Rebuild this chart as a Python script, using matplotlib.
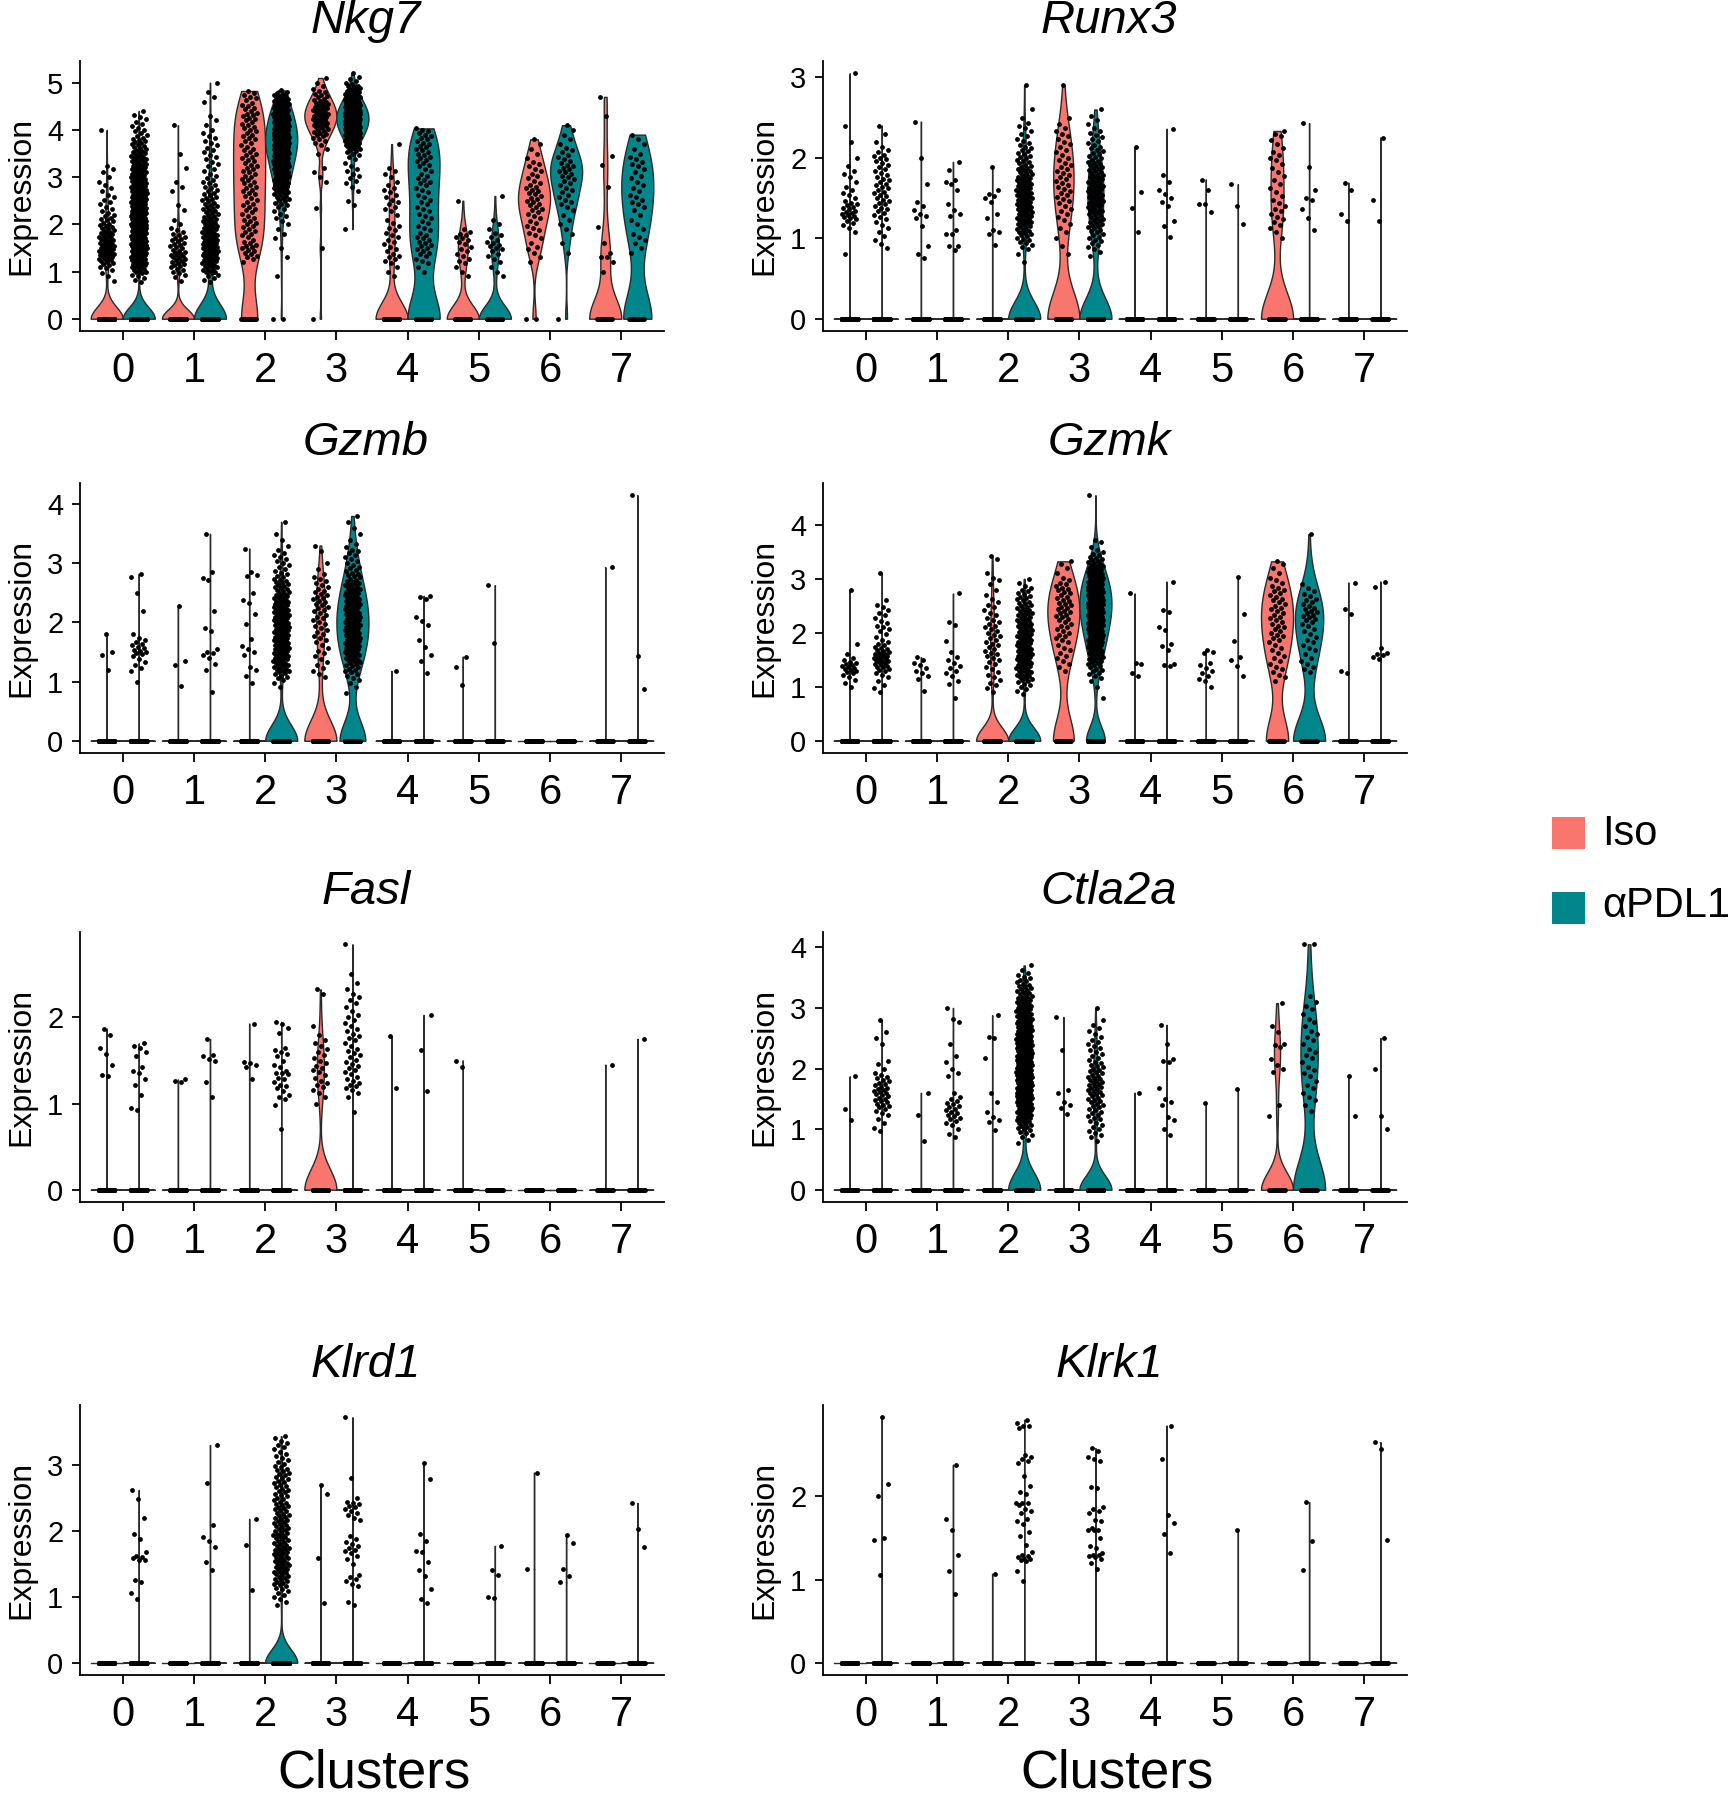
import numpy as np
import matplotlib
matplotlib.use("Agg")
import matplotlib.pyplot as plt
from matplotlib.patches import Rectangle

plt.rcParams['font.family'] = ['Liberation Sans', 'DejaVu Sans']


def H(lo, counts):
    # counts of cells, one entry per 0.1-wide bin centred on lo, lo+0.1, ...
    # cells of one bin are laid out evenly inside that bin
    out = []
    for i, c in enumerate(counts):
        for j in range(c):
            out.append(round(lo + 0.1 * i + 0.1 * ((j + 0.5) / c - 0.5), 3))
    return out


# ==================================
# DATA
# ==================================
CLUSTERS = ["0", "1", "2", "3", "4", "5", "6", "7"]
GROUPS = ["Iso", "\u03b1PDL1"]
COLORS = ["#F8766D", "#00868B"]

# cells at 0 per cluster: [Iso, aPDL1]
nkg7_zeros = [[220, 700], [150, 250], [18, 2], [1, 0], [90, 30], [45, 55], [2, 1], [20, 18]]
nkg7_iso = {
    0: H(0.8, [1, 1, 2, 3, 5, 7, 8, 8, 7, 6, 6, 5, 4, 4, 3, 2, 2, 2, 2, 1, 2, 1, 1, 1, 2, 0, 0, 0, 0, 0, 0, 0, 1]),
    1: H(0.8, [1, 2, 3, 4, 5, 5, 5, 4, 4, 4, 3, 2, 1, 1, 0, 1, 1, 0, 0, 1, 1, 1, 0, 0, 1, 0, 0, 1, 0, 0, 0, 0, 0, 1]),
    2: H(1.2, [1, 3, 3, 4, 3, 2, 3, 3, 3, 3, 2, 3, 3, 2, 3, 3, 3, 3, 3, 3, 3, 3, 3, 3, 3, 2, 3, 3, 3, 3, 3, 4, 3, 3, 2, 3, 2]),
    3: [1.5, 2.35] + H(2.9, [1, 1, 1, 1, 0, 0, 1, 1, 2, 3, 4, 5, 6, 7, 7, 7, 6, 5, 4, 3, 2, 1, 1]),
    4: H(0.9, [1, 1, 1, 2, 3, 2, 2, 2, 2, 2, 2, 2, 1, 1, 2, 2, 2, 2, 2, 2, 1, 1, 2, 1, 0, 0, 0, 0, 1]),
    5: H(0.9, [1, 1, 1, 2, 2, 2, 2, 2, 3, 3, 1, 0, 0, 0, 0, 0, 1]),
    6: H(1.2, [1, 1, 1, 2, 1, 1, 2, 2, 2, 2, 2, 3, 3, 3, 3, 3, 3, 2, 2, 2, 2, 2, 1, 1, 1, 1, 1]),
    7: [1.0, 1.2, 1.3, 1.3, 1.4, 1.6, 1.95, 2.8, 3.25, 3.45, 4.3, 4.7],
}
nkg7_apd = {
    0: H(0.8, [2, 3, 5, 7, 9, 11, 12, 13, 13, 13, 13, 13, 13, 13, 12, 12, 12, 11, 11, 10, 10, 9, 9, 8, 8, 7, 7, 6, 5, 5, 4, 3, 3, 2, 2, 2, 1]),
    1: H(0.8, [2, 3, 5, 6, 7, 8, 9, 9, 9, 8, 7, 6, 6, 5, 5, 5, 4, 4, 4, 3, 3, 3, 2, 2, 2, 2, 2, 2, 2, 2, 2, 2, 1, 1, 1, 1, 0, 0, 1, 1, 1, 0, 1]),
    2: H(0.9, [1, 0, 0, 0, 1, 0, 1, 0, 1, 1, 1, 1, 2, 2, 2, 3, 4, 5, 6, 7, 8, 9, 10, 11, 12, 13, 14, 15, 16, 16, 16, 15, 14, 13, 12, 11, 9, 8, 6, 4]),
    3: H(1.9, [1, 0, 0, 0, 0, 1, 1, 0, 1, 1, 2, 2, 2, 2, 1, 2, 3, 5, 8, 11, 14, 17, 19, 20, 20, 19, 16, 13, 10, 7, 5, 3, 2, 1]),
    4: H(1.0, [1, 1, 2, 2, 3, 3, 3, 3, 2, 2, 2, 2, 2, 2, 2, 2, 2, 2, 2, 3, 2, 2, 2, 3, 3, 3, 3, 3, 3, 3, 3]),
    5: H(0.9, [1, 1, 1, 1, 2, 2, 3, 3, 2, 2, 1, 1, 1, 0, 0, 0, 0, 1]),
    6: H(1.4, [1, 0, 1, 0, 1, 1, 1, 1, 1, 1, 2, 2, 2, 2, 2, 2, 3, 3, 3, 3, 2, 2, 2, 1, 1, 1, 1, 1]),
    7: H(1.4, [1, 1, 1, 2, 1, 1, 1, 1, 1, 1, 2, 2, 2, 1, 2, 1, 2, 1, 2, 2, 2, 1, 1, 1, 1, 1]),
}

runx3_zeros = [[400, 600], [150, 200], [150, 250], [45, 120], [150, 150], [100, 100], [45, 100], [80, 80]]
runx3_iso = {
    0: H(0.8, [1, 0, 0, 2, 4, 8, 6, 3, 3, 1, 3, 1, 1, 0, 1, 0, 1]) + [3.05],
    1: [0.75, 0.8, 0.9, 1.15, 1.25, 1.28, 1.3, 1.35, 1.4, 1.45, 1.67, 2.0, 2.45],
    2: [0.92, 1.05, 1.08, 1.1, 1.25, 1.3, 1.45, 1.5, 1.52, 1.55, 1.6, 1.88],
    3: H(0.8, [1, 1, 1, 2, 2, 3, 3, 4, 4, 4, 4, 4, 3, 3, 3, 3, 2, 1, 0, 0, 0, 1]),
    4: [1.08, 1.38, 1.58, 2.13],
    5: [1.32, 1.42, 1.43, 1.6, 1.73],
    6: H(1.0, [1, 2, 3, 3, 3, 2, 2, 2, 2, 2, 3, 2, 2, 3]),
    7: [1.22, 1.3, 1.6, 1.69],
}
runx3_apd = {
    0: H(0.9, [2, 2, 2, 3, 4, 5, 5, 5, 5, 4, 4, 5, 3, 1, 1, 1]),
    1: [0.85, 0.9, 0.9, 1.05, 1.05, 1.1, 1.28, 1.3, 1.35, 1.42, 1.6, 1.67, 1.7, 1.72, 1.85, 1.95],
    2: H(0.7, [1, 1, 4, 6, 8, 10, 12, 12, 12, 12, 11, 9, 7, 6, 5, 4, 3, 3, 1, 1, 0, 0, 1]),
    3: H(0.8, [2, 4, 5, 6, 8, 9, 10, 11, 11, 10, 9, 8, 6, 5, 4, 4, 2, 2, 1]),
    4: [1.02, 1.15, 1.22, 1.4, 1.45, 1.5, 1.55, 1.6, 1.7, 1.78, 2.36],
    5: [1.18, 1.4, 1.67],
    6: [1.1, 1.25, 1.36, 1.47, 1.5, 1.6, 1.88, 2.43],
    7: [1.22, 1.48, 2.25],
}

gzmb_zeros = [[200, 300], [150, 200], [150, 300], [100, 60], [100, 150], [80, 80], [60, 60], [50, 50]]
gzmb_iso = {
    0: [1.2, 1.45, 1.5, 1.8],
    1: [0.93, 1.28, 1.35, 2.27],
    2: [0.98, 1.1, 1.2, 1.25, 1.45, 1.5, 1.55, 1.6, 1.72, 1.98, 2.15, 2.33, 2.38, 2.5, 2.78, 2.8, 2.85, 3.25],
    3: H(1.1, [2, 2, 2, 2, 2, 2, 3, 3, 3, 3, 3, 4, 4, 4, 4, 3, 3, 2, 1, 1, 0, 1, 1]),
    4: [1.18],
    5: [0.95, 1.25, 1.42],
    6: [],
    7: [2.93],
}
gzmb_apd = {
    0: H(1.0, [1, 0, 2, 2, 2, 5, 4, 3, 1, 0, 0, 0, 1, 0, 0, 1, 0, 0, 2]),
    1: [0.83, 1.2, 1.3, 1.4, 1.45, 1.48, 1.5, 1.55, 1.85, 1.9, 2.2, 2.72, 2.75, 2.85, 3.5],
    2: H(0.9, [1, 2, 5, 7, 8, 9, 9, 10, 10, 10, 10, 10, 10, 10, 9, 8, 7, 6, 5, 4, 3, 3, 3, 2, 1, 1, 1, 0, 1]),
    3: H(0.8, [1, 1, 2, 3, 5, 6, 7, 8, 9, 9, 10, 10, 10, 10, 9, 9, 9, 8, 7, 6, 5, 4, 3, 3, 3, 2, 1, 1, 1, 1, 1]),
    4: [1.15, 1.35, 1.45, 1.58, 1.7, 1.95, 2.02, 2.1, 2.4, 2.43, 2.45],
    5: [1.65, 2.63],
    6: [],
    7: [0.88, 1.43, 4.15],
}

gzmk_zeros = [[200, 300], [150, 200], [140, 300], [22, 55], [150, 150], [100, 100], [20, 30], [80, 80]]
gzmk_iso = {
    0: H(1.0, [1, 2, 2, 6, 5, 3, 1, 0, 1, 0, 0, 0, 0, 0, 0, 0, 0, 0, 1]),
    1: [0.93, 1.15, 1.2, 1.25, 1.3, 1.35, 1.4, 1.45, 1.5, 1.55],
    2: H(0.9, [1, 2, 2, 2, 2, 2, 3, 3, 3, 3, 3, 3, 3, 3, 2, 2, 2, 2, 1, 1, 1, 2, 1, 0, 0, 2]),
    3: H(1.3, [1, 2, 2, 2, 2, 2, 3, 3, 3, 3, 4, 4, 4, 4, 3, 4, 3, 2, 1, 1, 2]),
    4: [1.2, 1.25, 1.42, 1.45, 2.73],
    5: [1.0, 1.1, 1.15, 1.2, 1.25, 1.3, 1.35, 1.4, 1.45, 1.62, 1.65, 1.68],
    6: H(1.1, [1, 2, 2, 2, 2, 2, 2, 2, 3, 3, 3, 3, 3, 3, 3, 3, 3, 3, 2, 2, 1, 1, 2]),
    7: [1.25, 1.3, 2.35, 2.45, 2.93],
}
gzmk_apd = {
    0: H(0.9, [1, 2, 1, 2, 4, 6, 8, 7, 5, 3, 2, 2, 3, 2, 2, 2, 2, 1, 0, 0, 0, 0, 1]),
    1: [0.8, 1.05, 1.1, 1.2, 1.25, 1.3, 1.35, 1.38, 1.45, 1.5, 1.55, 1.65, 1.85, 2.15, 2.2, 2.73],
    2: H(0.9, [2, 3, 5, 6, 7, 8, 8, 8, 8, 8, 7, 7, 7, 7, 6, 6, 5, 5, 4, 3, 2, 1]),
    3: H(0.8, [1, 0, 1, 1, 3, 4, 5, 6, 7, 8, 9, 10, 11, 12, 13, 14, 15, 15, 15, 15, 14, 13, 12, 10, 8, 6, 4, 3, 1, 2]) + [4.55],
    4: [1.38, 1.4, 1.42, 1.68, 1.75, 1.8, 2.05, 2.1, 2.38, 2.42, 2.95],
    5: [1.2, 1.38, 1.5, 1.55, 1.85, 2.35, 3.03],
    6: H(1.3, [2, 2, 2, 1, 2, 2, 2, 2, 2, 3, 4, 4, 3, 3, 2, 2, 1]) + [3.83],
    7: [1.52, 1.55, 1.58, 1.6, 1.62, 1.72, 2.85, 2.95],
}

fasl_zeros = [[200, 300], [150, 200], [150, 250], [78, 200], [100, 150], [80, 80], [60, 60], [50, 50]]
fasl_iso = {
    0: [1.32, 1.33, 1.45, 1.58, 1.65, 1.8, 1.87],
    1: [1.25, 1.26, 1.28],
    2: [1.28, 1.42, 1.45, 1.47, 1.48, 1.93],
    3: H(1.0, [1, 2, 4, 3, 4, 3, 3, 3, 1, 1, 0, 0, 0, 2]),
    4: [1.18, 1.78],
    5: [1.42, 1.5],
    6: [],
    7: [1.45],
}
fasl_apd = {
    0: [0.93, 0.95, 1.1, 1.22, 1.28, 1.35, 1.38, 1.42, 1.55, 1.6, 1.65, 1.67, 1.7],
    1: [1.08, 1.25, 1.5, 1.52, 1.55, 1.56, 1.75],
    2: [0.7, 0.98, 1.05, 1.08, 1.1, 1.15, 1.18, 1.2, 1.22, 1.25, 1.28, 1.3, 1.34, 1.35,
        1.36, 1.38, 1.42, 1.45, 1.5, 1.55, 1.58, 1.6, 1.62, 1.65, 1.82, 1.88, 1.92, 1.95],
    3: H(0.9, [1, 0, 2, 5, 4, 4, 4, 4, 3, 4, 3, 3, 2, 3, 2, 1, 1, 0, 0]) + [2.85],
    4: [1.15, 1.62, 2.03],
    5: [],
    6: [],
    7: [1.75],
}

ctla2a_zeros = [[200, 300], [150, 200], [150, 340], [150, 200], [100, 150], [80, 80], [34, 35], [50, 50]]
ctla2a_iso = {
    0: [1.15, 1.33, 1.87],
    1: [0.8, 1.23, 1.6],
    2: [0.98, 1.12, 1.15, 1.2, 1.28, 1.45, 1.6, 2.18, 2.5, 2.52, 2.88],
    3: [1.25, 1.35, 1.4, 1.45, 1.6, 1.65, 2.3, 2.85],
    4: [1.6],
    5: [1.43],
    6: [1.22, 1.4, 1.95, 2.0, 2.05, 2.15, 2.35, 2.38, 2.4, 2.6, 2.7, 3.08],
    7: [1.22, 1.87],
}
ctla2a_apd = {
    0: H(1.0, [2, 1, 2, 3, 5, 5, 6, 5, 4, 3, 1, 2, 0, 0, 1, 1, 1, 0, 1]),
    1: H(0.9, [2, 1, 3, 4, 4, 4, 3, 1, 0, 0, 2, 1, 1, 1, 0, 1, 0, 0, 0, 2, 0, 1]),
    2: H(0.8, [2, 3, 5, 7, 9, 11, 13, 14, 15, 16, 17, 17, 17, 17, 17, 16, 15, 14, 13, 12, 11, 10, 9, 8, 7, 6, 5, 4, 2, 1]),
    3: H(0.8, [1, 3, 3, 3, 4, 4, 5, 5, 6, 6, 6, 5, 5, 4, 3, 3, 3, 2, 2, 2, 1, 0, 1]),
    4: [0.9, 1.0, 1.15, 1.2, 1.4, 1.45, 1.5, 1.68, 2.1, 2.12, 2.15, 2.4, 2.72],
    5: [1.67],
    6: H(1.3, [1, 1, 2, 1, 2, 1, 2, 2, 1, 2, 2, 1, 2, 2, 1, 2, 1, 2, 1, 1]) + [4.05, 4.05],
    7: [1.0, 1.22, 2.0, 2.5],
}

klrd1_zeros = [[200, 300], [150, 200], [150, 400], [150, 200], [100, 150], [80, 80], [60, 60], [50, 50]]
klrd1_iso = {
    0: [], 1: [],
    2: [1.1, 1.78, 2.18],
    3: [0.9, 1.58, 2.55, 2.7],
    4: [], 5: [],
    6: [1.42, 2.88],
    7: [],
}
klrd1_apd = {
    0: [0.97, 1.05, 1.22, 1.26, 1.55, 1.56, 1.58, 1.6, 1.62, 1.68, 1.88, 1.95, 2.2, 2.48, 2.62],
    1: [1.4, 1.52, 1.75, 1.85, 1.9, 2.08, 2.72, 3.3],
    2: H(0.9, [2, 3, 4, 6, 7, 8, 8, 8, 8, 7, 7, 7, 7, 6, 6, 6, 5, 5, 5, 5, 5, 4, 3, 3, 3, 3]),
    3: H(0.9, [2, 0, 0, 3, 3, 0, 1, 2, 4, 3, 2, 0, 0, 3, 3, 5, 1, 0, 0, 1]) + [3.72],
    4: [0.9, 0.97, 1.12, 1.32, 1.4, 1.52, 1.68, 1.7, 1.85, 1.95, 2.78, 3.02],
    5: [0.98, 1.0, 1.33, 1.4, 1.77],
    6: [1.22, 1.32, 1.42, 1.82, 1.93],
    7: [1.75, 2.02, 2.42],
}

klrk1_zeros = [[200, 300], [150, 200], [150, 300], [150, 200], [100, 150], [80, 80], [60, 60], [50, 50]]
klrk1_iso = {0: [], 1: [], 2: [1.07], 3: [], 4: [], 5: [], 6: [], 7: []}
klrk1_apd = {
    0: [1.05, 1.48, 1.5, 2.0, 2.15, 2.95],
    1: [0.82, 1.1, 1.3, 1.6, 1.73, 2.38],
    2: [0.98, 1.1, 1.22, 1.23, 1.25, 1.25, 1.27, 1.28, 1.3, 1.33, 1.42, 1.52, 1.57, 1.67, 1.7, 1.73,
        1.8, 1.82, 1.85, 1.9, 1.92, 1.92, 1.92, 2.03, 2.05, 2.13, 2.24, 2.4, 2.42, 2.45, 2.47, 2.5,
        2.82, 2.85, 2.85, 2.88, 2.92],
    3: [1.13, 1.2, 1.25, 1.27, 1.28, 1.3, 1.3, 1.32, 1.38, 1.4, 1.5, 1.6, 1.6, 1.6, 1.62, 1.7,
        1.72, 1.8, 1.82, 1.85, 1.87, 2.1, 2.11, 2.43, 2.45, 2.47, 2.55, 2.58],
    4: [1.32, 1.55, 1.68, 1.77, 2.45, 2.85],
    5: [1.6],
    6: [1.12, 1.46, 1.93],
    7: [1.48, 2.57, 2.65],
}

PANELS = [
    ("Nkg7", nkg7_zeros, nkg7_iso, nkg7_apd),
    ("Runx3", runx3_zeros, runx3_iso, runx3_apd),
    ("Gzmb", gzmb_zeros, gzmb_iso, gzmb_apd),
    ("Gzmk", gzmk_zeros, gzmk_iso, gzmk_apd),
    ("Fasl", fasl_zeros, fasl_iso, fasl_apd),
    ("Ctla2a", ctla2a_zeros, ctla2a_iso, ctla2a_apd),
    ("Klrd1", klrd1_zeros, klrd1_iso, klrd1_apd),
    ("Klrk1", klrk1_zeros, klrk1_iso, klrk1_apd),
]

# ==================================
# LAYOUT (pixels of the 1730x1800 figure)
# ==================================
FW, FH = 1730, 1800
COL_X = [80, 823]
ROW_TOP = [61, 483, 932, 1405]
AX_W, AX_H = 584, 270
HALF = 0.225          # half width of one violin
DODGE = 0.225         # offset of each group from the cluster centre
JIT = 0.11
EDGE = "#2b2b2b"
LW = 1.0


def draw_violin(ax, x0, vals, color):
    vals = np.asarray(vals, float)
    if vals.max() == 0:
        ax.plot([x0 - HALF, x0 + HALF], [0, 0], color=EDGE, lw=LW, zorder=2)
        return
    q25, q75 = np.percentile(vals, [25, 75])
    lo = min(vals.std(ddof=1), (q75 - q25) / 1.34)
    bw = 0.9 * lo * len(vals) ** -0.2 if lo > 0 else 1e-3
    y = np.linspace(vals.min(), vals.max(), 512)
    d = np.exp(-0.5 * ((y[:, None] - vals[None, :]) / bw) ** 2).sum(axis=1)
    w = HALF * d / d.max()
    ax.fill_betweenx(y, x0 - w, x0 + w, facecolor=color, edgecolor=EDGE,
                     linewidth=LW, zorder=2)


fig = plt.figure(figsize=(FW / 100, FH / 100), dpi=100)

for k, (gene, zeros, iso, apd) in enumerate(PANELS):
    row, col = divmod(k, 2)
    left = COL_X[col] / FW
    bottom = 1 - (ROW_TOP[row] + AX_H) / FH
    ax = fig.add_axes([left, bottom, AX_W / FW, AX_H / FH])

    ymax = max(max([max(v) for v in iso.values() if v] + [0]),
               max([max(v) for v in apd.values() if v] + [0]))

    for c in range(len(CLUSTERS)):
        for g, series in enumerate([iso, apd]):
            vals = [0.0] * zeros[c][g] + list(series[c])
            x0 = c + (DODGE if g else -DODGE)
            draw_violin(ax, x0, vals, COLORS[g])
            n = len(vals)
            offs = ((np.arange(n) * 0.6180339887) % 1.0 - 0.5) * 2 * JIT
            ax.scatter(x0 + offs, vals, s=12, c="black", linewidths=0, zorder=3)

    ax.set_xlim(-0.6, 7.6)
    ax.set_ylim(-0.05 * ymax, 1.05 * ymax)
    ax.set_xticks(range(len(CLUSTERS)))
    ax.set_xticklabels(CLUSTERS)
    ax.set_yticks(np.arange(0, int(ymax) + 1))
    for s in ["top", "right"]:
        ax.spines[s].set_visible(False)
    for s in ["left", "bottom"]:
        ax.spines[s].set_linewidth(1.3)
        ax.spines[s].set_color("black")
    ax.tick_params(axis="x", labelsize=30, length=6.7, width=1.3, pad=7.5)
    ax.tick_params(axis="y", labelsize=21, length=6.0, width=1.3, pad=6)

    ax.set_ylabel("Expression", fontsize=23)
    ax.yaxis.set_label_coords(-44 / AX_W, 0.5)
    ax.text(0.5 - 6 / AX_W, 1 + 28 / AX_H, gene, transform=ax.transAxes,
            ha="center", va="baseline", fontsize=34, style="italic")

    if row == 3:
        fig.text((COL_X[col] + AX_W / 2 + 2) / FW, 1 - 1787 / FH, "Clusters",
                 ha="center", va="baseline", fontsize=38)

# ==================================
# LEGEND
# ==================================
for g, (sq_top, base) in enumerate([(817, 845), (892, 917)]):
    fig.patches.append(Rectangle((1552 / FW, 1 - (sq_top + 32) / FH), 33 / FW, 32 / FH,
                                 transform=fig.transFigure, facecolor=COLORS[g],
                                 edgecolor="none"))
    fig.text(1602 / FW, 1 - base / FH, GROUPS[g], ha="left", va="baseline", fontsize=30)

fig.savefig("out.png", dpi=100)
